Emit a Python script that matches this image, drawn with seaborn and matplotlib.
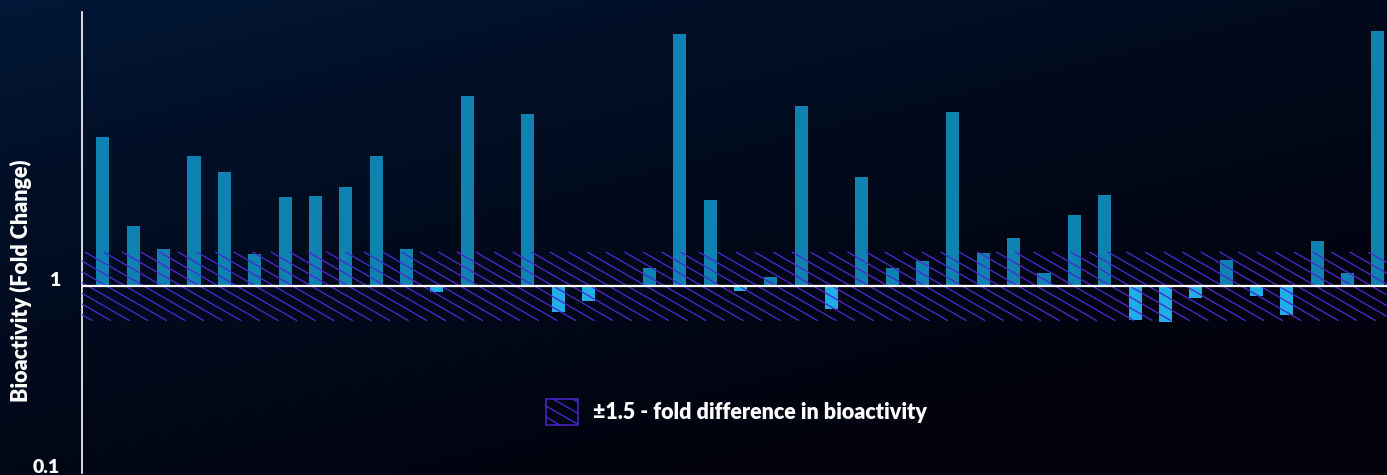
import numpy as np
import pandas as pd
import matplotlib
matplotlib.use("Agg")
import matplotlib.pyplot as plt
import seaborn as sns
from matplotlib.collections import LineCollection
from matplotlib.patches import Rectangle, Patch
from matplotlib.legend_handler import HandlerBase
from matplotlib.transforms import IdentityTransform
from matplotlib.ticker import NullLocator

# ---- data -------------------------------------------------------------
samples = [str(i) for i in range(1, 44)]
fold_change = [
    6.29, 2.10, 1.58, 4.98, 4.09, 1.49, 3.00, 3.04, 3.40, 4.98, 1.58,
    0.93, 10.5, 1.01, 8.35, 0.73, 0.83, 1.00, 1.25, 22.4, 2.89, 0.94,
    1.12, 9.21, 0.76, 3.84, 1.25, 1.37, 8.55, 1.51, 1.81, 1.18, 2.41,
    3.08, 0.66, 0.645, 0.87, 1.38, 0.89, 0.70, 1.75, 1.18, 23.2,
]
band_fold = 1.5
y_ticks = [0.1, 1]
y_tick_labels = ["0.1", "1"]
y_label = "Bioactivity (Fold Change)"
legend_label = "±1.5 - fold difference in bioactivity"

# ---- style ------------------------------------------------------------
UP = "#0E83B1"
DOWN = "#1FAFE6"
HATCH = "#4B27CF"
BG_START = np.array([1, 25, 58]) / 255
BG_END = np.array([2, 3, 14]) / 255
HATCH_ANGLE = np.deg2rad(30)
WEIGHT = "heavy"

sns.set_theme(style="white")
plt.rcParams["font.family"] = ["Lato", "DejaVu Sans"]
plt.rcParams["font.weight"] = WEIGHT

W, H, DPI = 1387, 475, 100
fig = plt.figure(figsize=(W / DPI, H / DPI), dpi=DPI)

# diagonal background gradient
bg = fig.add_axes([0, 0, 1, 1], zorder=-10)
gy, gx = np.mgrid[0:1:240j, 0:1:700j]
t = np.clip(0.55 * gx + 0.75 * gy, 0, 1) ** 0.7
bg.imshow(BG_START + (BG_END - BG_START) * t[..., None],
          aspect="auto", extent=[0, 1, 0, 1], origin="upper")
bg.axis("off")

ax = fig.add_axes([82 / W, 2 / H, 1305 / W, 461 / H])
ax.patch.set_alpha(0)

# bars grow up or down from a fold change of 1
df = pd.DataFrame({"sample": samples, "fold": fold_change})
df["height"] = df["fold"] - 1
df["direction"] = np.where(df["fold"] >= 1, "up", "down")
sns.barplot(data=df, x="sample", y="height", hue="direction",
            palette={"up": UP, "down": DOWN}, bottom=1, width=0.43,
            dodge=False, legend=False, errorbar=None, saturation=1,
            linewidth=0, zorder=2, ax=ax)

ax.set_yscale("log")
ax.set_ylim(0.1, 29.5)
ax.set_xlim(-0.69, 42.3)


def hatch_segments(x0, x1, y0, y1, step, phase=0.0):
    """Slanted lines (down to the right) filling a rectangle."""
    k = np.tan(HATCH_ANGLE)
    dc = step * k
    cmin, cmax = y0 + k * x0, y1 + k * x1
    segs = []
    c = cmin + (phase % dc)
    while c < cmax:
        xa = max(x0, (c - y1) / k)
        xb = min(x1, (c - y0) / k)
        if xb > xa:
            segs.append([(xa, c - k * xa), (xb, c - k * xb)])
        c += dc
    return segs


# +/- fold band drawn as slanted hatch lines in pixel space
lo, hi = 1 / band_fold, band_fold
xl, xr = ax.get_xlim()
px0, py0 = ax.transData.transform((xl, lo))
px1, py1 = ax.transData.transform((xr, hi))
band = LineCollection(hatch_segments(px0, px1, py0 - 1.5, py1 + 1.5, 18.6, phase=6),
                      colors=HATCH, linewidths=0.95,
                      transform=IdentityTransform(), zorder=3)
ax.add_collection(band, autolim=False)

ax.axhline(1, color="white", lw=1.6, zorder=4)

# axes styling
for side in ("top", "right", "bottom"):
    ax.spines[side].set_visible(False)
ax.spines["left"].set_color("white")
ax.spines["left"].set_linewidth(1.2)
ax.set_yticks(y_ticks, y_tick_labels)
ax.yaxis.set_minor_locator(NullLocator())
ax.tick_params(axis="y", length=8.6, width=1.2, color="white",
               labelcolor="white", labelsize=14, pad=7)
for lab in ax.get_yticklabels():
    lab.set_verticalalignment("baseline")
ax.tick_params(axis="x", bottom=False, labelbottom=False)
ax.set_xlabel("")
ax.set_ylabel(y_label, color="white", fontsize=15.5, fontweight=WEIGHT)
ax.yaxis.set_label_coords(-0.038, 0.4165)


class HatchBoxHandler(HandlerBase):
    def create_artists(self, legend, orig_handle, xdescent, ydescent,
                       width, height, fontsize, trans):
        x0, y0 = -xdescent, -ydescent
        box = Rectangle((x0, y0), width, height, facecolor="none",
                        edgecolor=HATCH, lw=1.1, transform=trans)
        segs = hatch_segments(x0, x0 + width, y0, y0 + height,
                              width * 0.6, phase=width * 0.25)
        lines = LineCollection(segs, colors=HATCH, linewidths=0.95,
                               transform=trans)
        return [box, lines]


fs = 15.5
fs_px = fs * DPI / 72
ax.legend([Patch()], [legend_label],
          handler_map={Patch: HatchBoxHandler()},
          loc="center left", bbox_to_anchor=((546 - 82) / 1305, (473 - 412) / 461),
          frameon=False, borderpad=0, borderaxespad=0,
          handlelength=32 / fs_px, handleheight=32 / fs_px,
          handletextpad=15 / fs_px,
          prop={"size": fs, "weight": WEIGHT}, labelcolor="white")

fig.savefig("out.png", dpi=DPI)
